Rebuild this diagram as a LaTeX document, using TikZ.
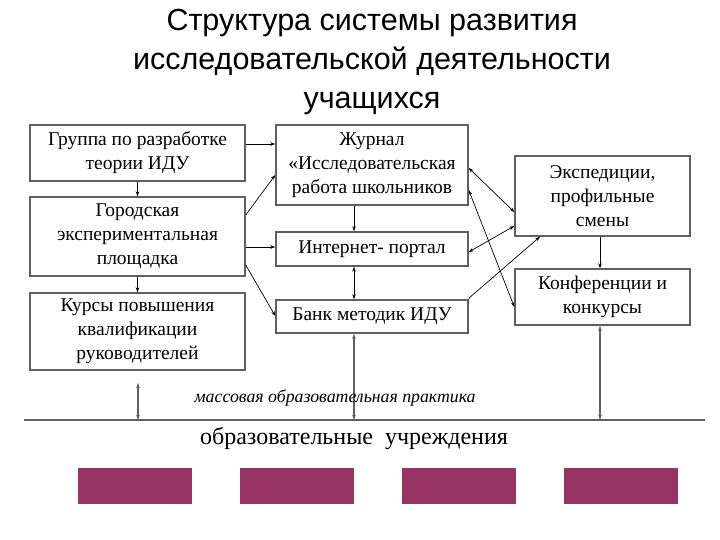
\documentclass[tikz,border=0pt]{standalone}
\usepackage{fontspec}
\setmainfont{Liberation Serif}
\newfontfamily\titlefont{Liberation Sans}
\usetikzlibrary{arrows.meta}
\definecolor{boxgray}{HTML}{606060}
\definecolor{plum}{HTML}{983463}
\tikzset{
  box/.style={draw=boxgray, line width=1.4pt, fill=white, align=center, inner sep=1pt,
    font=\fontsize{19.5}{24}\selectfont},
  arr/.style={-{Stealth[length=5pt,width=3.5pt]}, line width=0.7pt},
  darr/.style={{Stealth[length=5pt,width=3.5pt]}-{Stealth[length=5pt,width=3.5pt]}, line width=0.7pt},
  garr/.style={{Stealth[length=5pt,width=3.5pt]}-{Stealth[length=5pt,width=3.5pt]}, line width=1.4pt, draw=boxgray},
  plumbox/.style={fill=plum, draw=none, minimum width=114pt, minimum height=36pt, inner sep=0pt}
}
\begin{document}
\begin{tikzpicture}[x=1pt,y=-1pt]
\useasboundingbox (0,0) rectangle (720,540);
% title
\node[font=\titlefont\fontsize{30.5}{39}\selectfont, align=center] (title) at (372,62)
  {Структура системы развития\\исследовательской деятельности\\учащихся};
% left column
\node[box, minimum width=215pt, minimum height=56pt] (g1) at (137.5,153) {Группа по разработке\\теории ИДУ};
\node[box, minimum width=215pt, minimum height=79pt] (g2) at (137.5,236.5) {Городская\\экспериментальная\\площадка};
\node[box, minimum width=215pt, minimum height=77pt] (g3) at (137.5,331.5) {Курсы повышения\\квалификации\\руководителей};
% middle column
\node[box, minimum width=192pt, minimum height=80pt] (j) at (372,165) {Журнал\\«Исследовательская\\работа школьников};
\node[box, minimum width=192pt, minimum height=34pt] (ip) at (372,249) {Интернет- портал};
\node[box, minimum width=192pt, minimum height=33pt] (b) at (372,316.5) {Банк методик ИДУ};
% right column
\node[box, minimum width=175pt, minimum height=80pt] (e) at (602.5,196) {Экспедиции,\\профильные\\смены};
\node[box, minimum width=175pt, minimum height=56pt] (k) at (602.5,297) {Конференции и\\конкурсы};
% base line
\coordinate (L1) at (24,420);
\coordinate (L2) at (705,420);
\draw[boxgray, line width=1.6pt] (L1) -- (L2);
\coordinate (q1) at (138,420);
\coordinate (q2) at (354,420);
\coordinate (q3) at (600,420);
\coordinate (c3) at (138,383);
% arrows
\draw[arr] (g1.east |- 0,144) -- (j.west |- 0,144);
\draw[arr] (g1) -- (g2);
\draw[arr] (g2) -- (g3);
\draw[arr] (g2.east |- 0,215) -- (j.west |- 0,175);
\draw[arr] (g2.east |- 0,247) -- (ip.west |- 0,247);
\draw[arr] (g2.east |- 0,265) -- (b.west |- 0,316);
\draw[arr] (j.south -| 354,0) -- (ip.north -| 354,0);
\draw[darr] (ip.south -| 354,0) -- (b.north -| 354,0);
\draw[darr] (j.east |- 0,168) -- (e.west |- 0,212);
\draw[darr] (ip.east |- 0,252) -- (e.west |- 0,226);
\draw[arr] (b.north east) ++(0,-1) -- (e.south -| 540,0);
\draw[darr] (j.east |- 0,190) -- (k.west |- 0,307);
\draw[arr] (e.south -| 600,0) -- (k.north -| 600,0);
\draw[garr] (c3) -- (q1);
\draw[garr] (b.south -| 354,0) -- (q2);
\draw[garr] (k.south -| 600,0) -- (q3);
% labels
\node[font=\itshape\fontsize{17.8}{21}\selectfont] (mass) at (335,398) {массовая образовательная практика};
\node[font=\fontsize{24}{28}\selectfont] (ou) at (354,438) {образовательные\ \ учреждения};
% plum blocks
\node[plumbox, anchor=north west] (p1) at (78,468) {};
\node[plumbox, anchor=north west] (p2) at (240,468) {};
\node[plumbox, anchor=north west] (p3) at (402,468) {};
\node[plumbox, anchor=north west] (p4) at (564,468) {};
\end{tikzpicture}
\end{document}
